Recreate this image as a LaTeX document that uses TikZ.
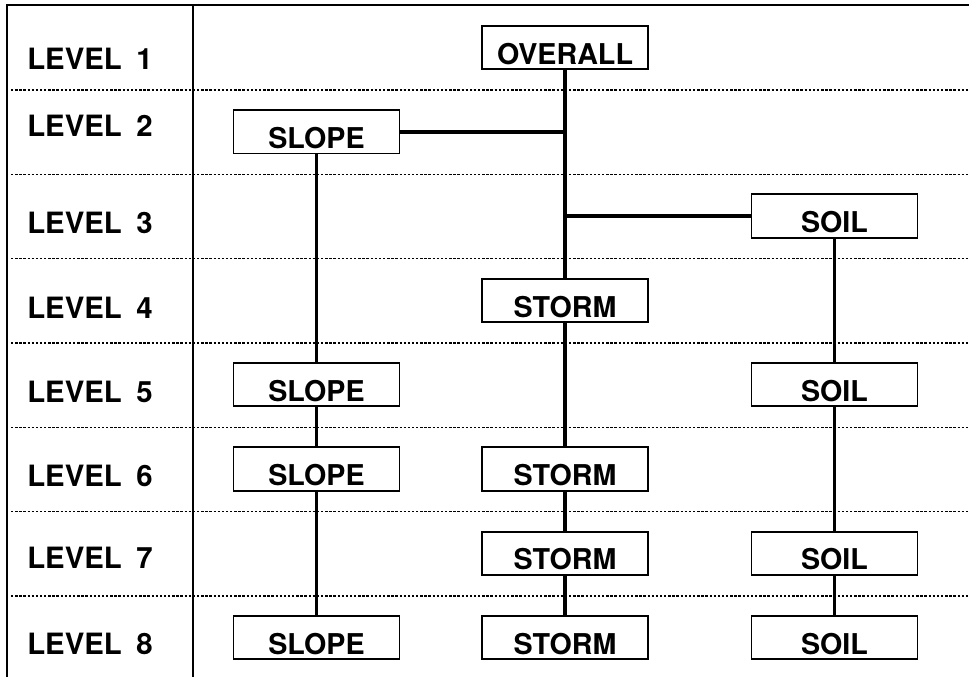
\documentclass[tikz,border=0pt]{standalone}
\usepackage{fontspec}
\setmainfont{TeX Gyre Heros}
\newcommand{\lvl}[1]{LEVEL\hspace{0.5em}#1}
\begin{document}
\begin{tikzpicture}[x=0.75pt,y=-0.75pt,
  levellabel/.style={anchor=base west,inner sep=0pt,font=\fontsize{22}{22}\selectfont\bfseries},
  blockbox/.style={draw,line width=1.4pt,inner sep=0pt,minimum width=124.5pt,minimum height=32.5pt,
    text height=25pt,text depth=0pt,font=\fontsize{21.5}{22}\selectfont\bfseries},
  trunk/.style={line width=3.2pt},
  link/.style={line width=2.8pt},
  frame/.style={line width=1.6pt},
  rowline/.style={line width=0.9pt,dash pattern=on 1.8pt off 1.3pt}
]
\useasboundingbox (0,0) rectangle (969,677);
% frame
\coordinate (tl) at (7,5);
\coordinate (tr) at (969,5);
\coordinate (bl) at (7,677);
\coordinate (dt) at (193,5);
\coordinate (db) at (193,677);
\draw[frame] (bl) -- (tl) -- (tr);
\draw[frame] (dt) -- (db);
% dotted row lines
\foreach \yy in {90,174.3,258.6,343,427.3,511.6,595.9}{
  \draw[rowline] (11,\yy) -- (969,\yy);
}
% level labels
\node[levellabel] (l1) at (27,70) {\lvl{1}};
\node[levellabel] (l2) at (27,137) {\lvl{2}};
\node[levellabel] (l3) at (27,233) {\lvl{3}};
\node[levellabel] (l4) at (27,318) {\lvl{4}};
\node[levellabel] (l5) at (27,402) {\lvl{5}};
\node[levellabel] (l6) at (27,486) {\lvl{6}};
\node[levellabel] (l7) at (27,568) {\lvl{7}};
\node[levellabel] (l8) at (27,654) {\lvl{8}};
% boxes
\node[blockbox] (overall) at (565,47.5) {OVERALL};
\node[blockbox] (slope2) at (316.5,131.8) {SLOPE};
\node[blockbox] (soil3) at (834.5,216) {SOIL};
\node[blockbox] (storm4) at (565,300.4) {STORM};
\node[blockbox] (slope5) at (316.5,384.7) {SLOPE};
\node[blockbox] (soil5) at (834.5,384.7) {SOIL};
\node[blockbox] (slope6) at (316.5,469) {SLOPE};
\node[blockbox] (storm6) at (565,469) {STORM};
\node[blockbox] (storm7) at (565,553.3) {STORM};
\node[blockbox] (soil7) at (834.5,553.3) {SOIL};
\node[blockbox] (slope8) at (316.5,637.6) {SLOPE};
\node[blockbox] (storm8) at (565,637.6) {STORM};
\node[blockbox] (soil8) at (834.5,637.6) {SOIL};
% connectors
\draw[trunk] (overall.south) -- (storm4.north);
\draw[trunk] (slope2.east) -- (slope2.east -| overall.south);
\draw[trunk] (soil3.west -| overall.south) -- (soil3.west);
\draw[link] (slope2.south) -- (slope5.north);
\draw[link] (slope5.south) -- (slope6.north);
\draw[link] (slope6.south) -- (slope8.north);
\draw[link] (storm4.south) -- (storm6.north);
\draw[link] (storm6.south) -- (storm7.north);
\draw[link] (storm7.south) -- (storm8.north);
\draw[link] (soil3.south) -- (soil5.north);
\draw[link] (soil5.south) -- (soil7.north);
\draw[link] (soil7.south) -- (soil8.north);
\end{tikzpicture}
\end{document}
